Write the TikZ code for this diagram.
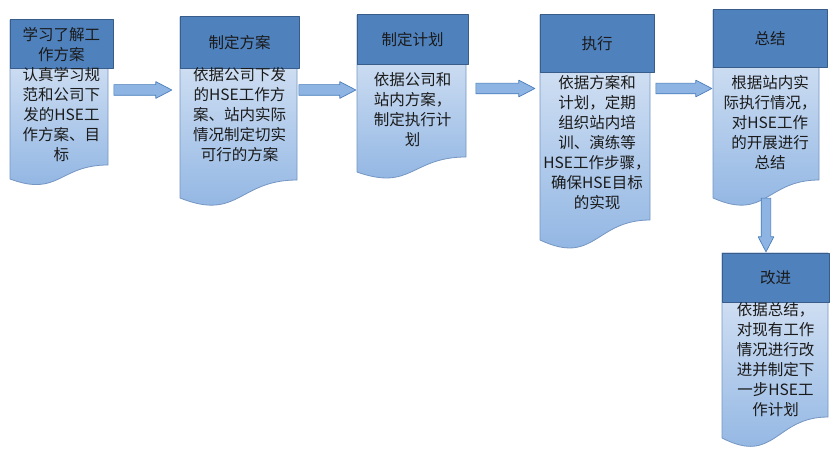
\documentclass[tikz,border=0pt]{standalone}
\usepackage{fontspec}
\usepackage{tikz}
\usetikzlibrary{calc,positioning,shapes.arrows}
\newfontfamily\cjk{Noto Sans CJK SC}
\definecolor{fcHead}{HTML}{4F81BD}
\definecolor{fcHeadLine}{HTML}{385D8A}
\definecolor{fcDocTop}{HTML}{E2EBF7}
\definecolor{fcDocBottom}{HTML}{8DB3E2}
\definecolor{fcDocLine}{HTML}{7596C2}
\definecolor{fcArrow}{HTML}{8DB4E2}
\definecolor{fcArrowLine}{HTML}{4A7EBB}
\definecolor{fcInk}{HTML}{1A1A1A}
\tikzset{
  fc diagram/.style={x=1pt, y=-1pt, font=\cjk\fontsize{15.5}{20}\selectfont,
    text=fcInk, line join=round},
  fc head/.style={draw=fcHeadLine, fill=fcHead, line width=1pt,
    align=center, inner sep=0pt},
  fc doc/.style={draw=fcDocLine, line width=0.8pt,
    top color=fcDocTop, bottom color=fcDocBottom},
  fc body/.style={align=center, inner sep=0pt},
  fc arrow/.style={single arrow, draw=fcArrowLine, fill=fcArrow, line width=0.7pt,
    inner xsep=0pt, inner ysep=5pt, single arrow head extend=3pt,
    single arrow tip angle=55}
}

\begin{document}
\begin{tikzpicture}[fc diagram]
\fill[white] (0,0) rectangle (839,460);
\useasboundingbox (0,0) rectangle (839,460);
\foreach \n/\xa/\xb/\xc/\ya/\yb/\r/\d/\g/\hd/\bd in {
  1/10/113/108/20/69/165/14/-2pt/{学习了解工\\作方案}/{认真学习规\\范和公司下\\发的HSE工\\作方案、目\\标},
  2/180/299/297/17/69/180/18/-2pt/{制定方案}/{依据公司下发\\的HSE工作方\\案、站内实际\\情况制定切实\\可行的方案},
  3/357/468/466/15/65/157/15/7pt/{制定计划}/{依据公司和\\站内方案，\\制定执行计\\划},
  4/540/654/650/15/73/220/20/2pt/{执行}/{依据方案和\\计划，定期\\组织站内培\\训、演练等\\HSE工作步骤，\\确保HSE目标\\的实现},
  5/713/827/819/10/68/180/18/7pt/{总结}/{根据站内实\\际执行情况，\\对HSE工作\\的开展进行\\总结},
  6/722/829/828/253/302/417/21/0pt/{改进}/{依据总结，\\对现有工作\\情况进行改\\进并制定下\\一步HSE工\\作计划}}{
  \path[fc doc] (\xa,\ya) -- (\xc,\ya) -- (\xc,\r)
    .. controls ({(\xa+\xc)/2},\r) and ({(\xa+\xc)/2},{\r+2.3*\d}) .. (\xa,{\r+\d})
    coordinate[pos=0.5] (d\n) -- cycle;
  \node[fc head, minimum width={(\xb-\xa)*1pt}, minimum height={(\yb-\ya)*1pt}]
    (h\n) at ({(\xa+\xb)/2},{(\ya+\yb)/2}) {\hd};
  \node[fc body, below=\g of h\n] (b\n) {\bd};
}
% block arrows between the steps
\foreach \a/\c/\h/\s/\e in {1/2/90/0pt/8pt, 2/3/90/-1pt/1pt, 3/4/88.5/7pt/5pt, 4/5/88.5/1pt/1pt}{
  \path let \p1=(h\a.east), \p2=(h\c.west) in
    node[fc arrow, anchor=tail, minimum height={\x2-\x1-\s-\e}] at ({\x1+\s},\h) {};
}
\path let \p1=(d5), \p2=(h6.north) in
  node[fc arrow, inner xsep=4.5pt, inner ysep=0pt, shape border rotate=270, anchor=tail,
    minimum height={\y1-\y2-1pt}] at (\p1) {};
\end{tikzpicture}
\end{document}
